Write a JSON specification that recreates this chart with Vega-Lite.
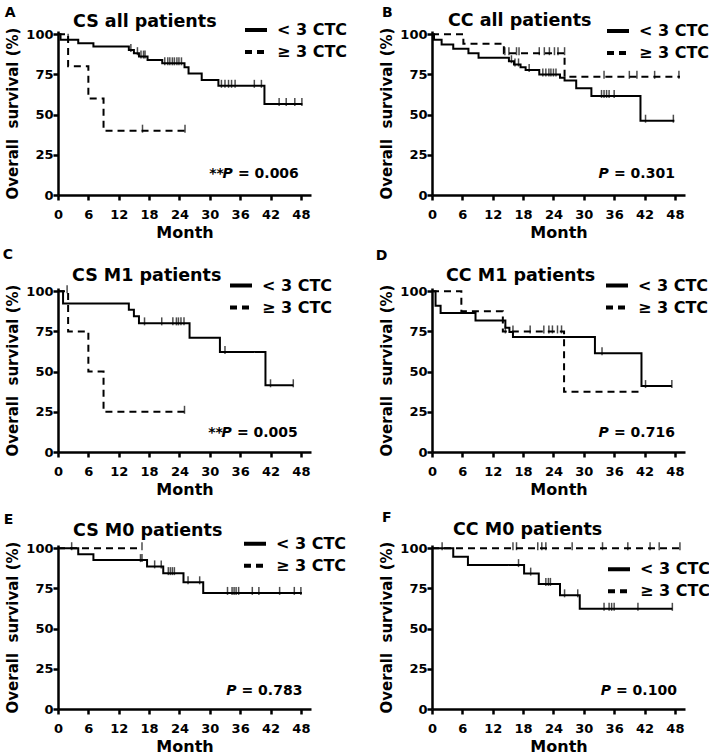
{
"$schema": "https://vega.github.io/schema/vega-lite/v6.json",
"padding": {"left": 2, "top": 6, "right": 0, "bottom": 0},
"background": "white",
"columns": 2,
"spacing": {"column": 121, "row": 93},
"bounds": "flush",
"resolve": {"legend": {"strokeDash": "independent"}, "scale": {"strokeDash": "independent"}},
"config": {
  "view": {"stroke": null},
  "font": "DejaVu Sans",
  "axis": {"domainColor": "black", "domainWidth": 2.5, "tickColor": "black", "tickWidth": 2.5, "tickSize": 5, "labelFont": "DejaVu Sans", "labelFontSize": 13, "labelFontWeight": "bold", "labelColor": "black", "titleFont": "DejaVu Sans", "titleFontWeight": "bold", "titleColor": "black", "grid": false, "labelOverlap": false, "labelFlush": false},
  "axisX": {"titleFontSize": 16, "titlePadding": 3, "labelPadding": 8, "tickCount": 20},
  "axisY": {"titleFontSize": 15, "titlePadding": 5, "labelPadding": 0, "tickCount": 10},
  "legend": {"orient": "none", "symbolType": "stroke", "symbolSize": 484, "symbolStrokeWidth": 4, "symbolStrokeColor": "black", "labelFont": "DejaVu Sans", "labelFontSize": 16, "labelFontWeight": "bold", "labelColor": "black", "labelOffset": 8, "rowPadding": 1, "padding": 0},
  "title": {"font": "DejaVu Sans", "fontSize": 17.5, "fontWeight": "bold", "anchor": "start", "color": "black", "frame": "group"},
  "text": {"font": "DejaVu Sans", "fontWeight": "bold", "color": "black", "fontSize": 14}
},
"datasets": {
  "km": [
    {"panel":"A","group":"< 3 CTC","month":0,"surv":100},{"panel":"A","group":"< 3 CTC","month":0.5,"surv":96.6},{"panel":"A","group":"< 3 CTC","month":4,"surv":94.4},{"panel":"A","group":"< 3 CTC","month":7,"surv":92.3},{"panel":"A","group":"< 3 CTC","month":14,"surv":90.2},{"panel":"A","group":"< 3 CTC","month":15,"surv":88.2},{"panel":"A","group":"< 3 CTC","month":16,"surv":86.1},{"panel":"A","group":"< 3 CTC","month":17.7,"surv":84},{"panel":"A","group":"< 3 CTC","month":20.6,"surv":81.9},{"panel":"A","group":"< 3 CTC","month":25,"surv":79.4},{"panel":"A","group":"< 3 CTC","month":25.8,"surv":75.5},{"panel":"A","group":"< 3 CTC","month":28.4,"surv":71.6},{"panel":"A","group":"< 3 CTC","month":31.7,"surv":67.9},{"panel":"A","group":"< 3 CTC","month":40.8,"surv":56.6},{"panel":"A","group":"< 3 CTC","month":48.3,"surv":56.6},
    {"panel":"A","group":"≥ 3 CTC","month":0,"surv":100},{"panel":"A","group":"≥ 3 CTC","month":2,"surv":80},{"panel":"A","group":"≥ 3 CTC","month":6,"surv":60},{"panel":"A","group":"≥ 3 CTC","month":9,"surv":40},{"panel":"A","group":"≥ 3 CTC","month":25.1,"surv":40},
    {"panel":"B","group":"< 3 CTC","month":0,"surv":100},{"panel":"B","group":"< 3 CTC","month":0.4,"surv":96.5},{"panel":"B","group":"< 3 CTC","month":1.9,"surv":93.6},{"panel":"B","group":"< 3 CTC","month":4.2,"surv":90.9},{"panel":"B","group":"< 3 CTC","month":7.2,"surv":88.2},{"panel":"B","group":"< 3 CTC","month":9.2,"surv":85.3},{"panel":"B","group":"< 3 CTC","month":15.2,"surv":83.2},{"panel":"B","group":"< 3 CTC","month":16.2,"surv":81.2},{"panel":"B","group":"< 3 CTC","month":17.5,"surv":79.5},{"panel":"B","group":"< 3 CTC","month":18.5,"surv":77.8},{"panel":"B","group":"< 3 CTC","month":21.2,"surv":74.9},{"panel":"B","group":"< 3 CTC","month":25.3,"surv":72.9},{"panel":"B","group":"< 3 CTC","month":26.2,"surv":71.2},{"panel":"B","group":"< 3 CTC","month":28.5,"surv":66.4},{"panel":"B","group":"< 3 CTC","month":31.5,"surv":61.6},{"panel":"B","group":"< 3 CTC","month":41.2,"surv":46.2},{"panel":"B","group":"< 3 CTC","month":47.9,"surv":46.2},
    {"panel":"B","group":"≥ 3 CTC","month":0,"surv":100},{"panel":"B","group":"≥ 3 CTC","month":6.2,"surv":94.1},{"panel":"B","group":"≥ 3 CTC","month":14.2,"surv":88.2},{"panel":"B","group":"≥ 3 CTC","month":26.2,"surv":73.5},{"panel":"B","group":"≥ 3 CTC","month":49,"surv":73.5},
    {"panel":"C","group":"< 3 CTC","month":0,"surv":100},{"panel":"C","group":"< 3 CTC","month":1,"surv":92.3},{"panel":"C","group":"< 3 CTC","month":14,"surv":88.5},{"panel":"C","group":"< 3 CTC","month":15,"surv":84.5},{"panel":"C","group":"< 3 CTC","month":16,"surv":80},{"panel":"C","group":"< 3 CTC","month":26,"surv":71.1},{"panel":"C","group":"< 3 CTC","month":32,"surv":62.2},{"panel":"C","group":"< 3 CTC","month":41,"surv":41.5},{"panel":"C","group":"< 3 CTC","month":46.5,"surv":41.5},
    {"panel":"C","group":"≥ 3 CTC","month":0,"surv":100},{"panel":"C","group":"≥ 3 CTC","month":2,"surv":75},{"panel":"C","group":"≥ 3 CTC","month":6,"surv":50},{"panel":"C","group":"≥ 3 CTC","month":9,"surv":25},{"panel":"C","group":"≥ 3 CTC","month":25,"surv":25},
    {"panel":"D","group":"< 3 CTC","month":0,"surv":100},{"panel":"D","group":"< 3 CTC","month":0.7,"surv":90.9},{"panel":"D","group":"< 3 CTC","month":1.7,"surv":86.4},{"panel":"D","group":"< 3 CTC","month":8.6,"surv":81.8},{"panel":"D","group":"< 3 CTC","month":14.5,"surv":77.3},{"panel":"D","group":"< 3 CTC","month":15.3,"surv":74.7},{"panel":"D","group":"< 3 CTC","month":16,"surv":71.6},{"panel":"D","group":"< 3 CTC","month":32.2,"surv":61.4},{"panel":"D","group":"< 3 CTC","month":41.4,"surv":41},{"panel":"D","group":"< 3 CTC","month":47.4,"surv":41},
    {"panel":"D","group":"≥ 3 CTC","month":0,"surv":100},{"panel":"D","group":"≥ 3 CTC","month":5.8,"surv":87.5},{"panel":"D","group":"≥ 3 CTC","month":14,"surv":75},{"panel":"D","group":"≥ 3 CTC","month":26.1,"surv":37.5},{"panel":"D","group":"≥ 3 CTC","month":41.3,"surv":37.5},
    {"panel":"E","group":"< 3 CTC","month":0,"surv":100},{"panel":"E","group":"< 3 CTC","month":4,"surv":96.3},{"panel":"E","group":"< 3 CTC","month":7,"surv":92.6},{"panel":"E","group":"< 3 CTC","month":17.6,"surv":88.7},{"panel":"E","group":"< 3 CTC","month":20.8,"surv":84.5},{"panel":"E","group":"< 3 CTC","month":24.8,"surv":78.8},{"panel":"E","group":"< 3 CTC","month":28.7,"surv":72.2},{"panel":"E","group":"< 3 CTC","month":48.2,"surv":72.2},
    {"panel":"E","group":"≥ 3 CTC","month":0,"surv":100},{"panel":"E","group":"≥ 3 CTC","month":16.6,"surv":100},
    {"panel":"F","group":"< 3 CTC","month":0,"surv":100},{"panel":"F","group":"< 3 CTC","month":4.2,"surv":94.7},{"panel":"F","group":"< 3 CTC","month":7.1,"surv":89.5},{"panel":"F","group":"< 3 CTC","month":18.2,"surv":84.2},{"panel":"F","group":"< 3 CTC","month":21.1,"surv":77.8},{"panel":"F","group":"< 3 CTC","month":25.3,"surv":70.7},{"panel":"F","group":"< 3 CTC","month":29.2,"surv":62.3},{"panel":"F","group":"< 3 CTC","month":47.5,"surv":62.3},
    {"panel":"F","group":"≥ 3 CTC","month":0,"surv":100},{"panel":"F","group":"≥ 3 CTC","month":49,"surv":100}
  ],
  "cens": [
    {"panel":"A","month":2,"surv":96.6},{"panel":"A","month":14.4,"surv":90.2},{"panel":"A","month":15.7,"surv":88.2},{"panel":"A","month":16.4,"surv":86.1},{"panel":"A","month":16.9,"surv":86.1},{"panel":"A","month":17.2,"surv":86.1},{"panel":"A","month":21.1,"surv":81.9},{"panel":"A","month":21.7,"surv":81.9},{"panel":"A","month":22.1,"surv":81.9},{"panel":"A","month":22.6,"surv":81.9},{"panel":"A","month":23,"surv":81.9},{"panel":"A","month":23.5,"surv":81.9},{"panel":"A","month":23.9,"surv":81.9},{"panel":"A","month":24.4,"surv":81.9},{"panel":"A","month":32.3,"surv":67.9},{"panel":"A","month":33,"surv":67.9},{"panel":"A","month":33.7,"surv":67.9},{"panel":"A","month":34.3,"surv":67.9},{"panel":"A","month":35,"surv":67.9},{"panel":"A","month":38.8,"surv":67.9},{"panel":"A","month":40.2,"surv":67.9},{"panel":"A","month":43.7,"surv":56.6},{"panel":"A","month":45.1,"surv":56.6},{"panel":"A","month":46.8,"surv":56.6},{"panel":"A","month":48.2,"surv":56.6},
    {"panel":"A","month":16.7,"surv":40},{"panel":"A","month":25.1,"surv":40},
    {"panel":"B","month":15.7,"surv":83.2},{"panel":"B","month":16.4,"surv":81.2},{"panel":"B","month":17.1,"surv":81.2},{"panel":"B","month":19.2,"surv":77.8},{"panel":"B","month":21.9,"surv":74.9},{"panel":"B","month":22.5,"surv":74.9},{"panel":"B","month":23.1,"surv":74.9},{"panel":"B","month":23.5,"surv":74.9},{"panel":"B","month":24,"surv":74.9},{"panel":"B","month":24.5,"surv":74.9},{"panel":"B","month":33.5,"surv":61.6},{"panel":"B","month":34,"surv":61.6},{"panel":"B","month":34.5,"surv":61.6},{"panel":"B","month":35,"surv":61.6},{"panel":"B","month":36,"surv":61.6},{"panel":"B","month":42.2,"surv":46.2},{"panel":"B","month":47.7,"surv":46.2},
    {"panel":"B","month":14.4,"surv":88.2},{"panel":"B","month":15.2,"surv":88.2},{"panel":"B","month":16.7,"surv":88.2},{"panel":"B","month":17.2,"surv":88.2},{"panel":"B","month":21.2,"surv":88.2},{"panel":"B","month":22.2,"surv":88.2},{"panel":"B","month":23.2,"surv":88.2},{"panel":"B","month":24.2,"surv":88.2},{"panel":"B","month":24.9,"surv":88.2},{"panel":"B","month":26.2,"surv":88.2},{"panel":"B","month":34,"surv":73.5},{"panel":"B","month":39,"surv":73.5},{"panel":"B","month":40.5,"surv":73.5},{"panel":"B","month":44,"surv":73.5},{"panel":"B","month":48.8,"surv":73.5},
    {"panel":"C","month":17.1,"surv":80},{"panel":"C","month":20.5,"surv":80},{"panel":"C","month":22.7,"surv":80},{"panel":"C","month":23.4,"surv":80},{"panel":"C","month":23.8,"surv":80},{"panel":"C","month":24.3,"surv":80},{"panel":"C","month":24.9,"surv":80},{"panel":"C","month":33,"surv":62.2},{"panel":"C","month":42,"surv":41.5},{"panel":"C","month":46.5,"surv":41.5},
    {"panel":"C","month":1.8,"surv":100},{"panel":"C","month":25,"surv":25},
    {"panel":"D","month":33.6,"surv":61.4},{"panel":"D","month":42.2,"surv":41},{"panel":"D","month":47.4,"surv":41},
    {"panel":"D","month":14.5,"surv":75},{"panel":"D","month":16,"surv":75},{"panel":"D","month":19.4,"surv":75},{"panel":"D","month":22.1,"surv":75},{"panel":"D","month":23.1,"surv":75},{"panel":"D","month":23.8,"surv":75},{"panel":"D","month":24.8,"surv":75},{"panel":"D","month":25.6,"surv":75},
    {"panel":"E","month":2.7,"surv":100},{"panel":"E","month":16.3,"surv":92.6},{"panel":"E","month":16.6,"surv":92.6},{"panel":"E","month":19.1,"surv":88.7},{"panel":"E","month":20.4,"surv":88.7},{"panel":"E","month":21.8,"surv":84.5},{"panel":"E","month":22.2,"surv":84.5},{"panel":"E","month":22.6,"surv":84.5},{"panel":"E","month":23,"surv":84.5},{"panel":"E","month":25.7,"surv":78.8},{"panel":"E","month":28,"surv":78.8},{"panel":"E","month":33.5,"surv":72.2},{"panel":"E","month":34.4,"surv":72.2},{"panel":"E","month":34.8,"surv":72.2},{"panel":"E","month":35.2,"surv":72.2},{"panel":"E","month":35.7,"surv":72.2},{"panel":"E","month":38.4,"surv":72.2},{"panel":"E","month":39.7,"surv":72.2},{"panel":"E","month":43.8,"surv":72.2},{"panel":"E","month":46.7,"surv":72.2},{"panel":"E","month":48,"surv":72.2},
    {"panel":"E","month":16.6,"surv":100},
    {"panel":"F","month":17.1,"surv":89.5},{"panel":"F","month":19.5,"surv":84.2},{"panel":"F","month":22.5,"surv":77.8},{"panel":"F","month":23,"surv":77.8},{"panel":"F","month":23.4,"surv":77.8},{"panel":"F","month":26.2,"surv":70.7},{"panel":"F","month":28.8,"surv":70.7},{"panel":"F","month":34,"surv":62.3},{"panel":"F","month":35,"surv":62.3},{"panel":"F","month":35.5,"surv":62.3},{"panel":"F","month":36,"surv":62.3},{"panel":"F","month":40.7,"surv":62.3},{"panel":"F","month":47.5,"surv":62.3},
    {"panel":"F","month":2,"surv":100},{"panel":"F","month":16,"surv":100},{"panel":"F","month":16.7,"surv":100},{"panel":"F","month":20.9,"surv":100},{"panel":"F","month":21.7,"surv":100},{"panel":"F","month":22.5,"surv":100},{"panel":"F","month":27.7,"surv":100},{"panel":"F","month":33.7,"surv":100},{"panel":"F","month":38.7,"surv":100},{"panel":"F","month":43.1,"surv":100},{"panel":"F","month":44.9,"surv":100},{"panel":"F","month":49,"surv":100}
  ],
  "notes": [
    {"panel":"A","letter":"A","stars":"**","p":"P","pv":"= 0.006"},
    {"panel":"B","letter":"B","stars":"","p":"P","pv":"= 0.301"},
    {"panel":"C","letter":"C","stars":"**","p":"P","pv":"= 0.005"},
    {"panel":"D","letter":"D","stars":"","p":"P","pv":"= 0.716"},
    {"panel":"E","letter":"E","stars":"","p":"P","pv":"= 0.783"},
    {"panel":"F","letter":"F","stars":"","p":"P","pv":"= 0.100"}
  ]
},
"concat": [
  {"width": 253, "height": 164, "title": {"text": "CS all patients", "dx": 15, "offset": -24.2},
   "layer": [
    {"data": {"name": "km"}, "transform": [{"filter": "datum.panel === 'A'"}], "mark": {"type": "line", "interpolate": "step-after", "color": "black", "strokeWidth": 2},
     "encoding": {"x": {"field": "month", "type": "quantitative", "scale": {"domain": [0, 50]}, "axis": {"values": [0,6,12,18,24,30,36,42,48], "title": "Month", "tickCount": 20}},
                  "y": {"field": "surv", "type": "quantitative", "scale": {"domain": [0, 102]}, "axis": {"values": [0,25,50,75,100], "title": "Overall\u00a0\u00a0survival (%)", "tickCount": 10}},
                  "strokeDash": {"field": "group", "type": "nominal", "scale": {"domain": ["< 3 CTC", "≥ 3 CTC"], "range": [[1,0],[7,5]]}, "legend": {"title": null, "legendX": 185, "legendY": -14}}}},
    {"data": {"name": "cens"}, "transform": [{"filter": "datum.panel === 'A'"}], "mark": {"type": "tick", "orient": "vertical", "color": "black", "thickness": 1.5, "size": 8, "yOffset": -2},
     "encoding": {"x": {"field": "month", "type": "quantitative", "scale": {"domain": [0, 50]}}, "y": {"field": "surv", "type": "quantitative", "scale": {"domain": [0, 102]}}}},
    {"data": {"name": "notes"}, "transform": [{"filter": "datum.panel === 'A'"}], "mark": {"type": "text", "align": "left", "baseline": "alphabetic"},
     "encoding": {"x": {"datum": -10.5, "type": "quantitative", "scale": {"domain": [0, 50]}}, "y": {"datum": 110.7, "type": "quantitative", "scale": {"domain": [0, 102]}}, "text": {"field": "letter"}}},
    {"data": {"name": "notes"}, "transform": [{"filter": "datum.panel === 'A'"}], "mark": {"type": "text", "align": "right", "baseline": "alphabetic"},
     "encoding": {"x": {"datum": 47.6, "type": "quantitative", "scale": {"domain": [0, 50]}}, "y": {"datum": 10.7, "type": "quantitative", "scale": {"domain": [0, 102]}}, "text": {"field": "pv"}}},
    {"data": {"name": "notes"}, "transform": [{"filter": "datum.panel === 'A'"}], "mark": {"type": "text", "align": "right", "baseline": "alphabetic", "fontStyle": "italic", "dx": -66},
     "encoding": {"x": {"datum": 47.6, "type": "quantitative", "scale": {"domain": [0, 50]}}, "y": {"datum": 10.7, "type": "quantitative", "scale": {"domain": [0, 102]}}, "text": {"field": "p"}}},
    {"data": {"name": "notes"}, "transform": [{"filter": "datum.panel === 'A'"}], "mark": {"type": "text", "align": "right", "baseline": "alphabetic", "dx": -75},
     "encoding": {"x": {"datum": 47.6, "type": "quantitative", "scale": {"domain": [0, 50]}}, "y": {"datum": 10.7, "type": "quantitative", "scale": {"domain": [0, 102]}}, "text": {"field": "stars"}}}
   ]},
  {"width": 253, "height": 164, "title": {"text": "CC all patients", "dx": 16, "offset": -23},
   "layer": [
    {"data": {"name": "km"}, "transform": [{"filter": "datum.panel === 'B'"}], "mark": {"type": "line", "interpolate": "step-after", "color": "black", "strokeWidth": 2},
     "encoding": {"x": {"field": "month", "type": "quantitative", "scale": {"domain": [0, 50]}, "axis": {"values": [0,6,12,18,24,30,36,42,48], "title": "Month", "tickCount": 20}},
                  "y": {"field": "surv", "type": "quantitative", "scale": {"domain": [0, 102]}, "axis": {"values": [0,25,50,75,100], "title": "Overall\u00a0\u00a0survival (%)", "tickCount": 10}},
                  "strokeDash": {"field": "group", "type": "nominal", "scale": {"domain": ["< 3 CTC", "≥ 3 CTC"], "range": [[1,0],[7,5]]}, "legend": {"title": null, "legendX": 173, "legendY": -13}}}},
    {"data": {"name": "cens"}, "transform": [{"filter": "datum.panel === 'B'"}], "mark": {"type": "tick", "orient": "vertical", "color": "black", "thickness": 1.5, "size": 8, "yOffset": -2},
     "encoding": {"x": {"field": "month", "type": "quantitative", "scale": {"domain": [0, 50]}}, "y": {"field": "surv", "type": "quantitative", "scale": {"domain": [0, 102]}}}},
    {"data": {"name": "notes"}, "transform": [{"filter": "datum.panel === 'B'"}], "mark": {"type": "text", "align": "left", "baseline": "alphabetic"},
     "encoding": {"x": {"datum": -9.9, "type": "quantitative", "scale": {"domain": [0, 50]}}, "y": {"datum": 110.6, "type": "quantitative", "scale": {"domain": [0, 102]}}, "text": {"field": "letter"}}},
    {"data": {"name": "notes"}, "transform": [{"filter": "datum.panel === 'B'"}], "mark": {"type": "text", "align": "right", "baseline": "alphabetic"},
     "encoding": {"x": {"datum": 48, "type": "quantitative", "scale": {"domain": [0, 50]}}, "y": {"datum": 10.7, "type": "quantitative", "scale": {"domain": [0, 102]}}, "text": {"field": "pv"}}},
    {"data": {"name": "notes"}, "transform": [{"filter": "datum.panel === 'B'"}], "mark": {"type": "text", "align": "right", "baseline": "alphabetic", "fontStyle": "italic", "dx": -66},
     "encoding": {"x": {"datum": 48, "type": "quantitative", "scale": {"domain": [0, 50]}}, "y": {"datum": 10.7, "type": "quantitative", "scale": {"domain": [0, 102]}}, "text": {"field": "p"}}}
   ]},
  {"width": 253, "height": 164, "title": {"text": "CS M1 patients", "dx": 14, "offset": -36.7},
   "layer": [
    {"data": {"name": "km"}, "transform": [{"filter": "datum.panel === 'C'"}], "mark": {"type": "line", "interpolate": "step-after", "color": "black", "strokeWidth": 2},
     "encoding": {"x": {"field": "month", "type": "quantitative", "scale": {"domain": [0, 50]}, "axis": {"values": [0,6,12,18,24,30,36,42,48], "title": "Month", "tickCount": 20}},
                  "y": {"field": "surv", "type": "quantitative", "scale": {"domain": [0, 102]}, "axis": {"values": [0,25,50,75,100], "title": "Overall\u00a0\u00a0survival (%)", "tickCount": 10}},
                  "strokeDash": {"field": "group", "type": "nominal", "scale": {"domain": ["< 3 CTC", "≥ 3 CTC"], "range": [[1,0],[7,5]]}, "legend": {"title": null, "legendX": 170, "legendY": -15.5}}}},
    {"data": {"name": "cens"}, "transform": [{"filter": "datum.panel === 'C'"}], "mark": {"type": "tick", "orient": "vertical", "color": "black", "thickness": 1.5, "size": 8, "yOffset": -2},
     "encoding": {"x": {"field": "month", "type": "quantitative", "scale": {"domain": [0, 50]}}, "y": {"field": "surv", "type": "quantitative", "scale": {"domain": [0, 102]}}}},
    {"data": {"name": "notes"}, "transform": [{"filter": "datum.panel === 'C'"}], "mark": {"type": "text", "align": "left", "baseline": "alphabetic"},
     "encoding": {"x": {"datum": -10.9, "type": "quantitative", "scale": {"domain": [0, 50]}}, "y": {"datum": 120.3, "type": "quantitative", "scale": {"domain": [0, 102]}}, "text": {"field": "letter"}}},
    {"data": {"name": "notes"}, "transform": [{"filter": "datum.panel === 'C'"}], "mark": {"type": "text", "align": "right", "baseline": "alphabetic"},
     "encoding": {"x": {"datum": 47.4, "type": "quantitative", "scale": {"domain": [0, 50]}}, "y": {"datum": 9.4, "type": "quantitative", "scale": {"domain": [0, 102]}}, "text": {"field": "pv"}}},
    {"data": {"name": "notes"}, "transform": [{"filter": "datum.panel === 'C'"}], "mark": {"type": "text", "align": "right", "baseline": "alphabetic", "fontStyle": "italic", "dx": -66},
     "encoding": {"x": {"datum": 47.4, "type": "quantitative", "scale": {"domain": [0, 50]}}, "y": {"datum": 9.4, "type": "quantitative", "scale": {"domain": [0, 102]}}, "text": {"field": "p"}}},
    {"data": {"name": "notes"}, "transform": [{"filter": "datum.panel === 'C'"}], "mark": {"type": "text", "align": "right", "baseline": "alphabetic", "dx": -75},
     "encoding": {"x": {"datum": 47.4, "type": "quantitative", "scale": {"domain": [0, 50]}}, "y": {"datum": 9.4, "type": "quantitative", "scale": {"domain": [0, 102]}}, "text": {"field": "stars"}}}
   ]},
  {"width": 253, "height": 164, "title": {"text": "CC M1 patients", "dx": 14, "offset": -35.7},
   "layer": [
    {"data": {"name": "km"}, "transform": [{"filter": "datum.panel === 'D'"}], "mark": {"type": "line", "interpolate": "step-after", "color": "black", "strokeWidth": 2},
     "encoding": {"x": {"field": "month", "type": "quantitative", "scale": {"domain": [0, 50]}, "axis": {"values": [0,6,12,18,24,30,36,42,48], "title": "Month", "tickCount": 20}},
                  "y": {"field": "surv", "type": "quantitative", "scale": {"domain": [0, 102]}, "axis": {"values": [0,25,50,75,100], "title": "Overall\u00a0\u00a0survival (%)", "tickCount": 10}},
                  "strokeDash": {"field": "group", "type": "nominal", "scale": {"domain": ["< 3 CTC", "≥ 3 CTC"], "range": [[1,0],[7,5]]}, "legend": {"title": null, "legendX": 172, "legendY": -15.5}}}},
    {"data": {"name": "cens"}, "transform": [{"filter": "datum.panel === 'D'"}], "mark": {"type": "tick", "orient": "vertical", "color": "black", "thickness": 1.5, "size": 8, "yOffset": -2},
     "encoding": {"x": {"field": "month", "type": "quantitative", "scale": {"domain": [0, 50]}}, "y": {"field": "surv", "type": "quantitative", "scale": {"domain": [0, 102]}}}},
    {"data": {"name": "notes"}, "transform": [{"filter": "datum.panel === 'D'"}], "mark": {"type": "text", "align": "left", "baseline": "alphabetic"},
     "encoding": {"x": {"datum": -11.1, "type": "quantitative", "scale": {"domain": [0, 50]}}, "y": {"datum": 119.7, "type": "quantitative", "scale": {"domain": [0, 102]}}, "text": {"field": "letter"}}},
    {"data": {"name": "notes"}, "transform": [{"filter": "datum.panel === 'D'"}], "mark": {"type": "text", "align": "right", "baseline": "alphabetic"},
     "encoding": {"x": {"datum": 48, "type": "quantitative", "scale": {"domain": [0, 50]}}, "y": {"datum": 9.4, "type": "quantitative", "scale": {"domain": [0, 102]}}, "text": {"field": "pv"}}},
    {"data": {"name": "notes"}, "transform": [{"filter": "datum.panel === 'D'"}], "mark": {"type": "text", "align": "right", "baseline": "alphabetic", "fontStyle": "italic", "dx": -66},
     "encoding": {"x": {"datum": 48, "type": "quantitative", "scale": {"domain": [0, 50]}}, "y": {"datum": 9.4, "type": "quantitative", "scale": {"domain": [0, 102]}}, "text": {"field": "p"}}}
   ]},
  {"width": 253, "height": 164, "title": {"text": "CS M0 patients", "dx": 15, "offset": -26},
   "layer": [
    {"data": {"name": "km"}, "transform": [{"filter": "datum.panel === 'E'"}], "mark": {"type": "line", "interpolate": "step-after", "color": "black", "strokeWidth": 2},
     "encoding": {"x": {"field": "month", "type": "quantitative", "scale": {"domain": [0, 50]}, "axis": {"values": [0,6,12,18,24,30,36,42,48], "title": "Month", "tickCount": 20}},
                  "y": {"field": "surv", "type": "quantitative", "scale": {"domain": [0, 102]}, "axis": {"values": [0,25,50,75,100], "title": "Overall\u00a0\u00a0survival (%)", "tickCount": 10}},
                  "strokeDash": {"field": "group", "type": "nominal", "scale": {"domain": ["< 3 CTC", "≥ 3 CTC"], "range": [[1,0],[7,5]]}, "legend": {"title": null, "legendX": 184, "legendY": -14.3}}}},
    {"data": {"name": "cens"}, "transform": [{"filter": "datum.panel === 'E'"}], "mark": {"type": "tick", "orient": "vertical", "color": "black", "thickness": 1.5, "size": 8, "yOffset": -2},
     "encoding": {"x": {"field": "month", "type": "quantitative", "scale": {"domain": [0, 50]}}, "y": {"field": "surv", "type": "quantitative", "scale": {"domain": [0, 102]}}}},
    {"data": {"name": "notes"}, "transform": [{"filter": "datum.panel === 'E'"}], "mark": {"type": "text", "align": "left", "baseline": "alphabetic"},
     "encoding": {"x": {"datum": -10.7, "type": "quantitative", "scale": {"domain": [0, 50]}}, "y": {"datum": 115, "type": "quantitative", "scale": {"domain": [0, 102]}}, "text": {"field": "letter"}}},
    {"data": {"name": "notes"}, "transform": [{"filter": "datum.panel === 'E'"}], "mark": {"type": "text", "align": "right", "baseline": "alphabetic"},
     "encoding": {"x": {"datum": 48.3, "type": "quantitative", "scale": {"domain": [0, 50]}}, "y": {"datum": 8.8, "type": "quantitative", "scale": {"domain": [0, 102]}}, "text": {"field": "pv"}}},
    {"data": {"name": "notes"}, "transform": [{"filter": "datum.panel === 'E'"}], "mark": {"type": "text", "align": "right", "baseline": "alphabetic", "fontStyle": "italic", "dx": -66},
     "encoding": {"x": {"datum": 48.3, "type": "quantitative", "scale": {"domain": [0, 50]}}, "y": {"datum": 8.8, "type": "quantitative", "scale": {"domain": [0, 102]}}, "text": {"field": "p"}}}
   ]},
  {"width": 253, "height": 164, "title": {"text": "CC M0 patients", "dx": 21, "offset": -28.3},
   "layer": [
    {"data": {"name": "km"}, "transform": [{"filter": "datum.panel === 'F'"}], "mark": {"type": "line", "interpolate": "step-after", "color": "black", "strokeWidth": 2},
     "encoding": {"x": {"field": "month", "type": "quantitative", "scale": {"domain": [0, 50]}, "axis": {"values": [0,6,12,18,24,30,36,42,48], "title": "Month", "tickCount": 20}},
                  "y": {"field": "surv", "type": "quantitative", "scale": {"domain": [0, 102]}, "axis": {"values": [0,25,50,75,100], "title": "Overall\u00a0\u00a0survival (%)", "tickCount": 10}},
                  "strokeDash": {"field": "group", "type": "nominal", "scale": {"domain": ["< 3 CTC", "≥ 3 CTC"], "range": [[1,0],[7,5]]}, "legend": {"title": null, "legendX": 174, "legendY": 11.3}}}},
    {"data": {"name": "cens"}, "transform": [{"filter": "datum.panel === 'F'"}], "mark": {"type": "tick", "orient": "vertical", "color": "black", "thickness": 1.5, "size": 8, "yOffset": -2},
     "encoding": {"x": {"field": "month", "type": "quantitative", "scale": {"domain": [0, 50]}}, "y": {"field": "surv", "type": "quantitative", "scale": {"domain": [0, 102]}}}},
    {"data": {"name": "notes"}, "transform": [{"filter": "datum.panel === 'F'"}], "mark": {"type": "text", "align": "left", "baseline": "alphabetic"},
     "encoding": {"x": {"datum": -9.9, "type": "quantitative", "scale": {"domain": [0, 50]}}, "y": {"datum": 116.5, "type": "quantitative", "scale": {"domain": [0, 102]}}, "text": {"field": "letter"}}},
    {"data": {"name": "notes"}, "transform": [{"filter": "datum.panel === 'F'"}], "mark": {"type": "text", "align": "right", "baseline": "alphabetic"},
     "encoding": {"x": {"datum": 48.4, "type": "quantitative", "scale": {"domain": [0, 50]}}, "y": {"datum": 8.8, "type": "quantitative", "scale": {"domain": [0, 102]}}, "text": {"field": "pv"}}},
    {"data": {"name": "notes"}, "transform": [{"filter": "datum.panel === 'F'"}], "mark": {"type": "text", "align": "right", "baseline": "alphabetic", "fontStyle": "italic", "dx": -66},
     "encoding": {"x": {"datum": 48.4, "type": "quantitative", "scale": {"domain": [0, 50]}}, "y": {"datum": 8.8, "type": "quantitative", "scale": {"domain": [0, 102]}}, "text": {"field": "p"}}}
   ]}
]
}
